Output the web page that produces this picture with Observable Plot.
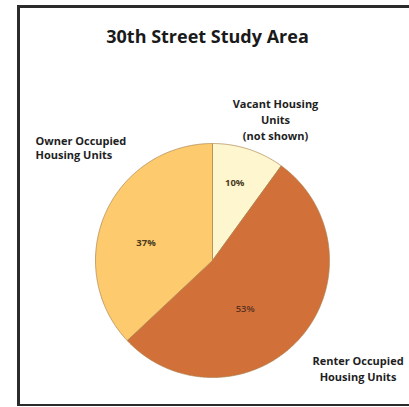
<!DOCTYPE html>
<html>
<head>
<meta charset="utf-8">
<script src="https://cdn.jsdelivr.net/npm/d3@7"></script>
<script src="https://cdn.jsdelivr.net/npm/@observablehq/plot@0.6"></script>
<style>
  body { margin: 0; background: #fff; }
  #wrap { position: relative; width: 409px; height: 407px; overflow: hidden; background: #fff; }
  #wrap svg { position: absolute; left: 0; top: 0; overflow: visible; }
  .edge { position: absolute; background: #2b2b2b; }
</style>
</head>
<body>
<div id="wrap">
  <div class="edge" style="left:17px;top:5px;width:392px;height:2.5px"></div>
  <div class="edge" style="left:17px;top:5px;width:2.5px;height:401px"></div>
  <div class="edge" style="left:17px;top:403.5px;width:392px;height:2.5px"></div>
</div>
<script>
// ---- data ----
const title = "30th Street Study Area";
const categories = ["Vacant Housing Units", "Renter Occupied Housing Units", "Owner Occupied Housing Units"];
const shares = [10, 53, 37];
const pctLabels = ["10%", "53%", "37%"];
const sliceColors = ["#FEF6CF", "#D2703A", "#FDCB6D"];
const nameLabels = ["Vacant Housing\nUnits\n(not shown)", "Renter Occupied\nHousing Units", "Owner Occupied\nHousing Units"];

// ---- pie geometry from data ----
const table = categories.map((c, i) => ({cat: c, share: shares[i], pct: pctLabels[i]}));
const arcs = d3.pie().sort(null).value(d => d.share)(table);
const pts = [];
for (const a of arcs) {
  pts.push({cat: a.data.cat, x: 0, y: 0});
  const n = Math.max(2, Math.ceil((a.endAngle - a.startAngle) / (Math.PI / 360)));
  for (let k = 0; k <= n; k++) {
    const t = a.startAngle + (a.endAngle - a.startAngle) * k / n;
    pts.push({cat: a.data.cat, x: Math.sin(t), y: Math.cos(t)});
  }
  pts.push({cat: a.data.cat, x: 0, y: 0});
}
const mid = a => (a.startAngle + a.endAngle) / 2;
function labelAt(a, r) { return [{x: r * Math.sin(mid(a)), y: r * Math.cos(mid(a)), text: a.data.pct}]; }

const pctFont = {fontFamily: "Open Sans", fontWeight: 700, fontSize: 9.5, fill: "#4a3b1e"};
const nameFont = {fontFamily: "Open Sans", fontWeight: 700, fontSize: 11, fill: "#1e1e1e", frameAnchor: "top-left", lineAnchor: "top"};

const chart = Plot.plot({
  width: 409,
  height: 407,
  marginLeft: 95, marginRight: 80, marginTop: 143, marginBottom: 30,
  x: {domain: [-1, 1], axis: null},
  y: {domain: [-1, 1], axis: null},
  color: {domain: categories, range: sliceColors},
  style: {background: "transparent"},
  marks: [
    Plot.line(pts, {x: "x", y: "y", z: "cat", fill: "cat", stroke: "#a9824f", strokeWidth: 0.7, curve: "linear"}),
    Plot.text(labelAt(arcs[0], 0.67), {x: "x", y: "y", text: "text", ...pctFont, dx: -2, dy: -2.5}),
    Plot.text(labelAt(arcs[1], 0.6), {x: "x", y: "y", text: "text", ...pctFont, fill: "#5a3320", fontWeight: 600, dx: -20, dy: 2.5}),
    Plot.text(labelAt(arcs[2], 0.6), {x: "x", y: "y", text: "text", ...pctFont, dx: -2, dy: 10.5}),
    Plot.text([title], {text: d => d, frameAnchor: "top-left", lineAnchor: "top", textAnchor: "middle", dx: 112, dy: -113, fontFamily: "Open Sans", fontWeight: 700, fontSize: 18, fill: "#1a1a1a"}),
    Plot.text([nameLabels[0]], {text: d => d, ...nameFont, textAnchor: "middle", dx: 180, dy: -47, lineHeight: 1.45}),
    Plot.text([nameLabels[1]], {text: d => d, ...nameFont, textAnchor: "middle", dx: 262.5, dy: 210, lineHeight: 1.45}),
    Plot.text([nameLabels[2]], {text: d => d, ...nameFont, textAnchor: "start", dx: -60, dy: -8, lineHeight: 1.27})
  ]
});
document.getElementById("wrap").prepend(chart);
</script>
</body>
</html>
